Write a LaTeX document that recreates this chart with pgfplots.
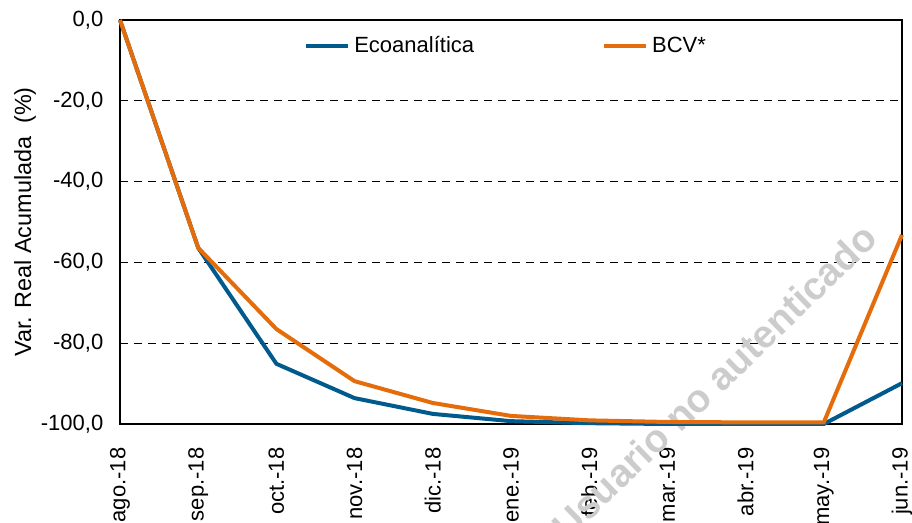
\documentclass[border=0pt]{standalone}
\usepackage{pgfplots}
\pgfplotsset{compat=1.18}
\usepackage{fontspec}
\setmainfont{Liberation Sans}
\definecolor{ecoblue}{RGB}{0,90,140}
\definecolor{bcvorange}{RGB}{228,108,10}
\begin{document}
\fontsize{11}{13}\selectfont
\begin{tikzpicture}
\begin{axis}[
  at={(0,0)}, anchor=south west,
  scale only axis,
  width=391pt, height=202pt,
  xmin=0, xmax=10, ymin=-100, ymax=0,
  xtick={0,...,10},
  xticklabels={ago.-18,sep.-18,oct.-18,nov.-18,dic.-18,ene.-19,feb.-19,mar.-19,abr.-19,may.-19,jun.-19},
  x tick label style={rotate=90, anchor=east, font=\fontsize{11}{13}\selectfont},
  ytick={-100,-80,-60,-40,-20,0},
  y tick label style={font=\fontsize{11}{13}\selectfont},
  yticklabel style={/pgf/number format/.cd, fixed, fixed zerofill, precision=1, use comma, 1000 sep={}, assume math mode=true},
  major tick length=0pt,
  xticklabel shift=8pt,
  yticklabel shift=4.5pt,
  ymajorgrids, grid style={black, dashed, line width=0.6pt, dash pattern=on 4pt off 3pt},
  axis line style={black, line width=0.8pt},
  ylabel={Var. Real Acumulada~ (\%)},
  ylabel style={font=\fontsize{11.7}{14}\selectfont, at={(axis description cs:-0.1215,0.5)}, anchor=center, rotate=0},
  legend style={draw=none, fill=none, at={(axis description cs:0.2275,0.935)}, anchor=west, legend columns=2, font=\fontsize{11}{13}\selectfont, /tikz/every even column/.append style={column sep=62pt}},
  legend image code/.code={\draw[#1, line width=2pt] (0pt,0pt) -- (21pt,0pt);},
  clip=false,
]
\node[rotate=44, text=black!20, font=\bfseries\fontsize{19.5}{23}\selectfont] at (axis cs:7.6,-89.5) {Usuario no autenticado};
\addplot[ecoblue, line width=2pt] coordinates {
(0,0) (1,-56.4) (2,-85.1) (3,-93.6) (4,-97.5) (5,-99.3) (6,-99.8) (7,-100) (8,-100) (9,-100) (10,-89.9)};
\addlegendentry{Ecoanalítica}
\addplot[bcvorange, line width=2pt] coordinates {
(0,0) (1,-56.4) (2,-76.5) (3,-89.4) (4,-94.8) (5,-98.0) (6,-99.1) (7,-99.5) (8,-99.6) (9,-99.6) (10,-53.2)};
\addlegendentry{BCV*}
\end{axis}
\pgfresetboundingbox
\path[use as bounding box] (-60pt,-49.5pt) rectangle (396pt,212pt);
\end{tikzpicture}
\end{document}
